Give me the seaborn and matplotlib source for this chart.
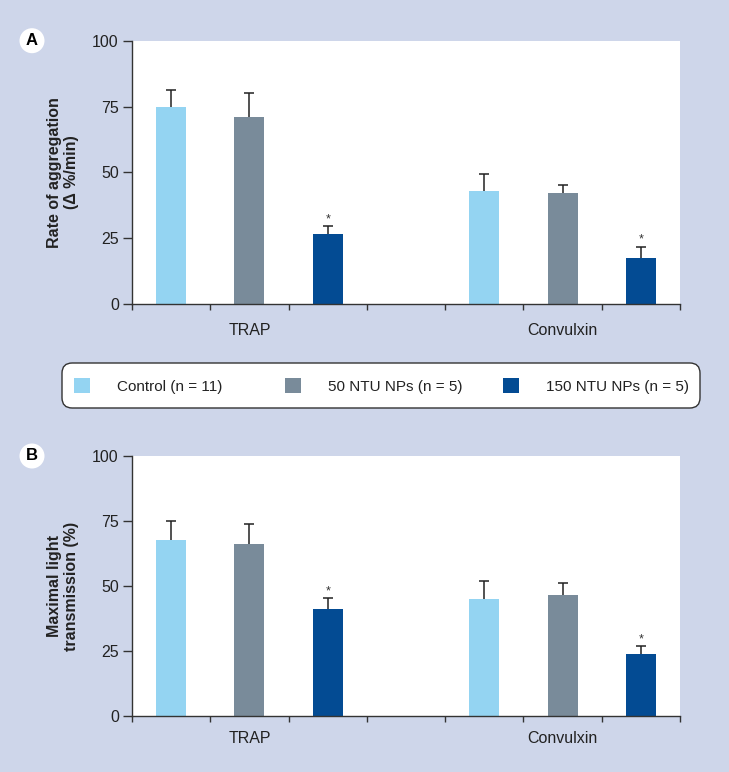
import matplotlib
matplotlib.use("Agg")
import matplotlib.pyplot as plt
import matplotlib.patches as mpatches
import seaborn as sns
import pandas as pd
import numpy as np

sns.set_style("white")
plt.rcParams["font.family"] = ["Liberation Sans", "DejaVu Sans"]

agonists = ["TRAP", "Convulxin"]
groups = ["Control (n = 11)", "50 NTU NPs (n = 5)", "150 NTU NPs (n = 5)"]
colors = ["#94D4F2", "#798B9A", "#034B93"]

rate_mean = [74.7, 71.1, 26.5, 43.0, 42.0, 17.6]
rate_err = [6.6, 9.0, 3.1, 6.2, 3.1, 4.2]
trans_mean = [67.7, 66.0, 41.0, 45.1, 46.4, 23.7]
trans_err = [7.4, 7.8, 4.3, 6.7, 4.8, 3.1]
significant = [False, False, True, False, False, True]

y_ticks = [0, 25, 50, 75, 100]
ylabels = ["Rate of aggregation\n(\u0394 %/min)", "Maximal light\ntransmission (%)"]
panel_letters = ["A", "B"]

BG = "#CED6EA"
W, H = 729, 772
fig = plt.figure(figsize=(W / 100, H / 100), dpi=100, facecolor=BG)

keys = []
for a in agonists:
    for g in groups:
        keys.append(f"{a}|{g}")
order = keys[:3] + ["gap"] + keys[3:]


def make_df(means, errs):
    rows = []
    i = 0
    for a in agonists:
        for g in groups:
            rows.append({"key": f"{a}|{g}", "agonist": a, "group": g,
                         "value": means[i], "err": errs[i], "sig": significant[i]})
            i += 1
    return pd.DataFrame(rows)


def draw_panel(ax, df, ylabel, xpad):
    ax.set_facecolor("white")
    sns.barplot(data=df, x="key", y="value", hue="group", order=order,
                hue_order=groups, palette=colors, dodge=False, width=0.385,
                saturation=1, errorbar=None, legend=False, ax=ax, linewidth=0)
    pos = [order.index(k) for k in df["key"]]
    cont = ax.errorbar(pos, df["value"], yerr=[np.zeros(len(df)), df["err"]],
                       fmt="none", ecolor="#222222", elinewidth=1.1, capsize=3.8,
                       capthick=1.1, zorder=3)
    caplines = cont.lines[1]
    if len(caplines) == 2:
        caplines[0].set_visible(False)
    for p, v, e, s in zip(pos, df["value"], df["err"], df["sig"]):
        if s:
            ax.text(p, v + e + 0.3, "*", ha="center", va="bottom",
                    fontsize=9, color="#333333")
    ax.set_xlim(-0.5, 6.5)
    ax.set_ylim(0, 100)
    ax.set_yticks(y_ticks)
    ax.set_yticklabels([str(t) for t in y_ticks], fontsize=11.5, color="#222222")
    ax.set_xticks(np.arange(-0.5, 7, 1.0))
    ax.set_xticklabels([])
    ax.set_xticks([1, 5], minor=True)
    ax.set_xticklabels(agonists, minor=True, fontsize=11.5, color="#222222")
    ax.tick_params(axis="x", which="major", direction="out", length=4.5,
                   width=1, color="#333333", bottom=True)
    ax.tick_params(axis="x", which="minor", length=0, pad=xpad)
    ax.tick_params(axis="y", direction="out", length=6.5, width=1,
                   color="#333333", left=True, pad=3)
    for s in ["top", "right"]:
        ax.spines[s].set_visible(False)
    for s in ["left", "bottom"]:
        ax.spines[s].set_color("#333333")
        ax.spines[s].set_linewidth(1)
    ax.set_xlabel("")
    ax.set_ylabel(ylabel, fontsize=11.5, fontweight="bold", color="#222222",
                  linespacing=1.15)
    ax.yaxis.set_label_coords(-0.097, 0.5)


left = 132 / W
width = (680 - 132) / W
axA = fig.add_axes([left, (H - 304) / H, width, (304 - 40.7) / H])
axB = fig.add_axes([left, (H - 716) / H, width, (716 - 456) / H])

draw_panel(axA, make_df(rate_mean, rate_err), ylabels[0], 13.5)
draw_panel(axB, make_df(trans_mean, trans_err), ylabels[1], 10.5)

for letter, yc in zip(panel_letters, [40.7, 456]):
    fig.text(32 / W, 1 - yc / H, letter, ha="center", va="center",
             fontsize=12, fontweight="bold", color="black",
             bbox=dict(boxstyle="circle,pad=0.3", fc="white", ec="none"))

# legend frame
frame = mpatches.FancyBboxPatch((62 / W, 1 - 408 / H), (700 - 62) / W, 45 / H,
                                boxstyle="round,pad=0,rounding_size=0.014",
                                transform=fig.transFigure, facecolor="white",
                                edgecolor="#333333", linewidth=1.0,
                                mutation_aspect=W / H)
fig.patches.append(frame)

patch_x = [74, 285, 503]
for c, g, px in zip(colors, groups, patch_x):
    h = mpatches.Patch(facecolor=c, edgecolor="none")
    lg = fig.legend([h], [g], loc="center left",
                    bbox_to_anchor=(px / W, 1 - 386 / H),
                    frameon=False, handlelength=1.05, handleheight=1.05,
                    handletextpad=1.75, borderpad=0, borderaxespad=0,
                    fontsize=11)
    for t in lg.get_texts():
        t.set_color("#222222")

fig.savefig("out.png", dpi=100, facecolor=BG)
